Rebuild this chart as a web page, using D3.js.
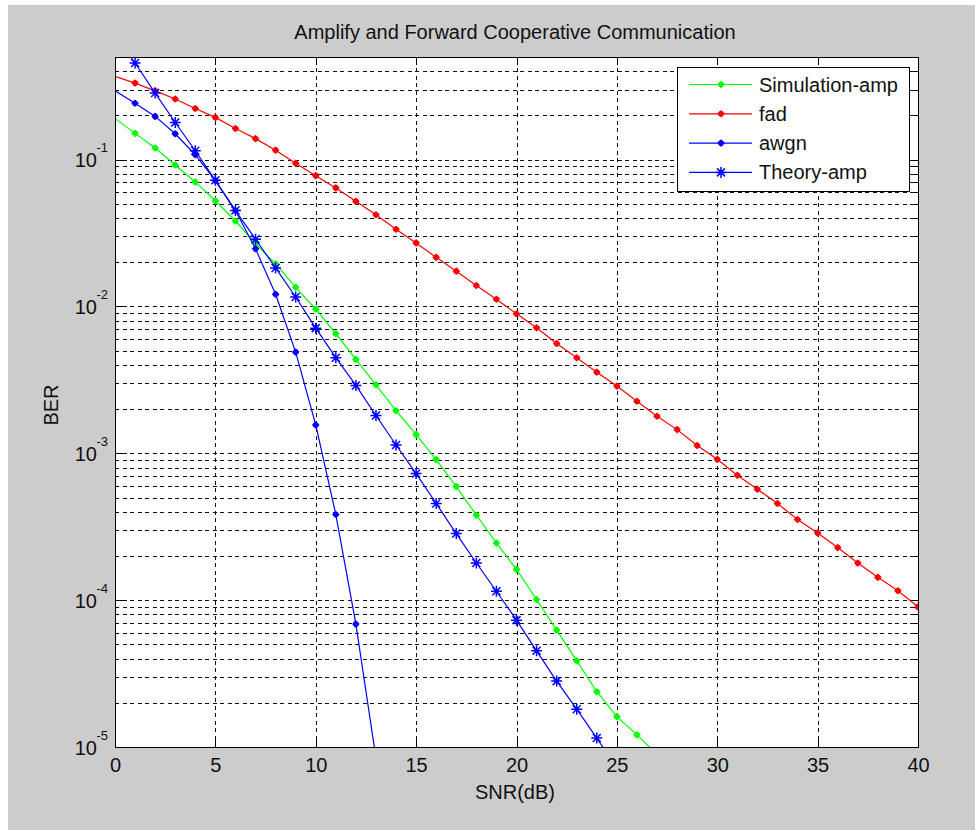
<!DOCTYPE html>
<html>
<head>
<meta charset="utf-8">
<script src="https://cdn.jsdelivr.net/npm/d3@7"></script>
<style>
  body { margin: 0; background: #fff; }
  svg { display: block; font-family: "Liberation Sans", Arial, sans-serif; }
</style>
</head>
<body>
<div class="container"></div>
<script>
// SNR in dB (integer steps), BER
var snr = [0, 1, 2, 3, 4, 5, 6, 7, 8, 9, 10, 11, 12, 13, 14, 15, 16, 17, 18, 19, 20,
           21, 22, 23, 24, 25, 26, 27, 28, 29, 30, 31, 32, 33, 34, 35, 36, 37, 38, 39, 40];

var berSim = [0.191, 0.151, 0.120, 0.0920, 0.0705, 0.0525, 0.0382, 0.0268, 0.0195, 0.0135,
              0.00959, 0.00652, 0.00436, 0.00293, 0.00195, 0.00134, 0.000906, 0.000594,
              0.000379, 0.000245, 0.000162, 0.000101, 6.25e-5, 3.87e-5, 2.38e-5, 1.61e-5,
              1.21e-5, 8.9e-6];

var berFad = [0.369, 0.332, 0.294, 0.259, 0.223, 0.194, 0.163, 0.139, 0.116, 0.0944,
              0.0778, 0.0642, 0.0520, 0.0421, 0.0336, 0.0271, 0.0216, 0.0174, 0.0139, 0.0112,
              0.00892, 0.00716, 0.00560, 0.00448, 0.00357, 0.00287, 0.00226, 0.00179, 0.00145,
              0.00113, 0.00091, 0.000708, 0.000569, 0.000455, 0.000354, 0.000287, 0.000228,
              0.000179, 0.000143, 0.000116, 0.000090];

var berAwgn = [0.294, 0.242, 0.197, 0.150, 0.108, 0.0720, 0.0450, 0.0247, 0.0121, 0.00489,
               0.00156, 0.000383, 6.87e-5, 8.4e-6];

var berTheory = [0.70, 0.455, 0.284, 0.179, 0.115, 0.0723, 0.0450, 0.0287, 0.0183, 0.0116,
                 0.00712, 0.00448, 0.00290, 0.00181, 0.00114, 0.000728, 0.000455, 0.000284,
                 0.000179, 0.000115, 7.31e-5, 4.52e-5, 2.81e-5, 1.81e-5, 1.15e-5, 7.2e-6];

var seriesNames = ['Simulation-amp', 'fad', 'awgn', 'Theory-amp'];
var seriesColors = ['#00ff00', '#ff0000', '#0000ff', '#0000ff'];
var seriesMarkers = ['dot', 'dot', 'dot', 'star'];
var seriesValues = [berSim, berFad, berAwgn, berTheory];

var xTicks = [0, 5, 10, 15, 20, 25, 30, 35, 40];
var yDecades = [-5, -4, -3, -2, -1];
var yMax = 0.5;

var width = 975, height = 830;
var plotLeft = 115, plotRight = 918, plotTop = 57, plotBottom = 747;

var svg = d3.select('.container').append('svg')
    .attr('width', width).attr('height', height);

// grey figure background
svg.append('rect').attr('x', 8).attr('y', 5)
    .attr('width', width - 8).attr('height', height - 5)
    .attr('fill', '#cccccc');

svg.append('rect').attr('x', plotLeft).attr('y', plotTop)
    .attr('width', plotRight - plotLeft).attr('height', plotBottom - plotTop)
    .attr('fill', '#fff');

var x = d3.scaleLinear().domain([0, 40]).range([plotLeft, plotRight]);
var y = d3.scaleLog().domain([1e-5, yMax]).range([plotBottom, plotTop]);

// minor y positions: 1..9 times each decade, up to the top of the axis
var yMinor = [];
yDecades.forEach(function (e) {
    for (var m = 1; m <= 9; m++) {
        var v = m * Math.pow(10, e);
        if (v < yMax * 0.999) yMinor.push(v);
    }
});

var gridColor = '#111';

function styleGrid(g) {
    g.select('.domain').remove();
    g.selectAll('line').attr('stroke', gridColor)
        .attr('stroke-dasharray', '4,3.5')
        .attr('shape-rendering', 'crispEdges');
}

// dashed grid
svg.append('g').attr('transform', 'translate(0,' + plotBottom + ')')
    .call(d3.axisBottom(x).tickValues(xTicks.slice(1, -1)).tickSize(-(plotBottom - plotTop)).tickFormat(''))
    .call(styleGrid);

svg.append('g').attr('transform', 'translate(' + plotLeft + ',0)')
    .call(d3.axisLeft(y).tickValues(yMinor.slice(1)).tickSize(-(plotRight - plotLeft)).tickFormat(''))
    .call(styleGrid);

// ticks on all four sides, pointing inward
function styleTicks(g) {
    g.select('.domain').remove();
    g.selectAll('line').attr('stroke', '#000').attr('shape-rendering', 'crispEdges');
}
svg.append('g').attr('transform', 'translate(0,' + plotBottom + ')')
    .call(d3.axisBottom(x).tickValues(xTicks).tickSize(-8).tickPadding(11))
    .call(styleTicks)
    .call(function (g) {
        g.selectAll('text').attr('font-size', 20).attr('fill', '#111')
            .attr('font-family', '"Liberation Sans", Arial, sans-serif');
    });
svg.append('g').attr('transform', 'translate(0,' + plotTop + ')')
    .call(d3.axisTop(x).tickValues(xTicks).tickSize(-8).tickFormat(''))
    .call(styleTicks);

var yMajor = yDecades.map(function (e) { return Math.pow(10, e); });
var yMinorOnly = yMinor.filter(function (v) { return yMajor.indexOf(v) < 0; });
svg.append('g').attr('transform', 'translate(' + plotLeft + ',0)')
    .call(d3.axisLeft(y).tickValues(yMajor).tickSize(-8).tickFormat(''))
    .call(styleTicks);
svg.append('g').attr('transform', 'translate(' + plotLeft + ',0)')
    .call(d3.axisLeft(y).tickValues(yMinorOnly).tickSize(-4).tickFormat(''))
    .call(styleTicks);
svg.append('g').attr('transform', 'translate(' + plotRight + ',0)')
    .call(d3.axisRight(y).tickValues(yMajor).tickSize(-8).tickFormat(''))
    .call(styleTicks);
svg.append('g').attr('transform', 'translate(' + plotRight + ',0)')
    .call(d3.axisRight(y).tickValues(yMinorOnly).tickSize(-4).tickFormat(''))
    .call(styleTicks);

// y tick labels 10^e
var yLab = svg.append('g').attr('fill', '#111');
yDecades.forEach(function (e) {
    var yy = y(Math.pow(10, e));
    yLab.append('text').attr('x', 97).attr('y', yy + 7.5)
        .attr('text-anchor', 'end').attr('font-size', 20).text('10');
    yLab.append('text').attr('x', 96.5).attr('y', yy - 7.5)
        .attr('font-size', 13).text(e);
});

// series
svg.append('clipPath').attr('id', 'plotclip')
    .append('rect').attr('x', plotLeft).attr('y', plotTop)
    .attr('width', plotRight - plotLeft).attr('height', plotBottom - plotTop);

var plot = svg.append('g').attr('clip-path', 'url(#plotclip)');

var line = d3.line()
    .x(function (d) { return x(d.snr); })
    .y(function (d) { return y(d.ber); });

var starPath = 'M-5.5,0H5.5M0,-5.5V5.5M-4,-4L4,4M-4,4L4,-4';

function drawMarker(sel, type, color) {
    if (type === 'star') {
        sel.append('path').attr('d', starPath)
            .attr('stroke', color).attr('stroke-width', 1.5).attr('fill', 'none');
    } else {
        sel.append('path').attr('d', 'M0,-3.8L3.8,0L0,3.8L-3.8,0Z').attr('fill', color);
        sel.append('circle').attr('r', 2.8).attr('fill', color);
    }
}

seriesValues.forEach(function (vals, i) {
    var pts = vals.map(function (v, k) { return { snr: snr[k], ber: v }; });
    plot.append('path').datum(pts)
        .attr('d', line)
        .attr('fill', 'none')
        .attr('stroke', seriesColors[i])
        .attr('stroke-width', 1.2);
    plot.selectAll('.m' + i)
        .data(pts.filter(function (d) { return d.snr > 0; }))
        .enter().append('g')
        .attr('class', 'm' + i)
        .attr('transform', function (d) { return 'translate(' + x(d.snr) + ',' + y(d.ber) + ')'; })
        .each(function () { drawMarker(d3.select(this), seriesMarkers[i], seriesColors[i]); });
});

// axes box
svg.append('rect').attr('x', plotLeft).attr('y', plotTop)
    .attr('width', plotRight - plotLeft).attr('height', plotBottom - plotTop)
    .attr('fill', 'none').attr('stroke', '#000').attr('stroke-width', 1)
    .attr('shape-rendering', 'crispEdges');

// legend
var leg = svg.append('g');
leg.append('rect').attr('x', 677.5).attr('y', 67.5).attr('width', 231.5).attr('height', 123.5)
    .attr('fill', '#fff').attr('stroke', '#000').attr('shape-rendering', 'crispEdges');
seriesNames.forEach(function (name, i) {
    var ly = 84.5 + i * 29.3;
    leg.append('line').attr('x1', 689).attr('x2', 752).attr('y1', ly).attr('y2', ly)
        .attr('stroke', seriesColors[i]).attr('stroke-width', 1.2);
    var mg = leg.append('g').attr('transform', 'translate(721,' + ly + ')');
    drawMarker(mg, seriesMarkers[i], seriesColors[i]);
    leg.append('text').attr('x', 759).attr('y', ly + 7).attr('font-size', 20)
        .attr('fill', '#111').text(name);
});

// titles
svg.append('text').attr('x', 515).attr('y', 39).attr('text-anchor', 'middle')
    .attr('font-size', 20).attr('fill', '#111')
    .text('Amplify and Forward Cooperative Communication');
svg.append('text').attr('x', 515).attr('y', 799).attr('text-anchor', 'middle')
    .attr('font-size', 20).attr('fill', '#111').text('SNR(dB)');
svg.append('text').attr('transform', 'translate(58,405) rotate(-90)')
    .attr('text-anchor', 'middle').attr('font-size', 20).attr('fill', '#111').text('BER');
</script>
</body>
</html>
